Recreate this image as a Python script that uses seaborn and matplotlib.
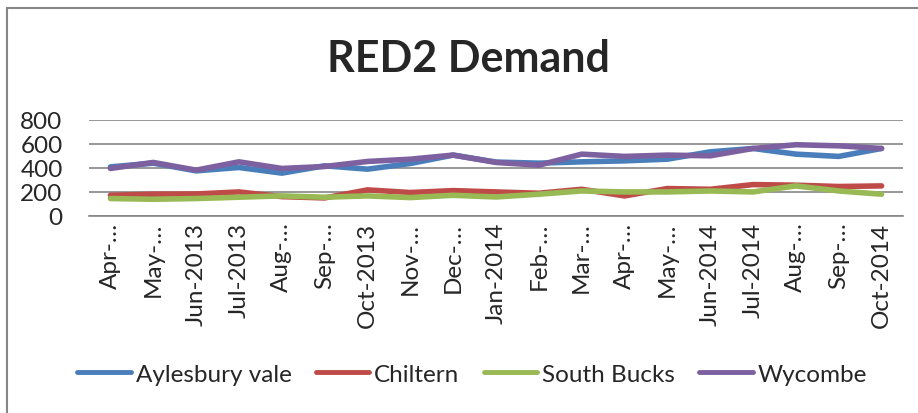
import matplotlib
matplotlib.use("Agg")
import matplotlib.pyplot as plt
import seaborn as sns
import pandas as pd
from matplotlib.patches import Rectangle

months = ["Apr-…", "May-…", "Jun-2013", "Jul-2013", "Aug-…", "Sep-…", "Oct-2013",
          "Nov-…", "Dec-…", "Jan-2014", "Feb-…", "Mar-…", "Apr-…", "May-…",
          "Jun-2014", "Jul-2014", "Aug-…", "Sep-…", "Oct-2014"]
aylesbury = [408, 439, 375, 403, 356, 417, 389, 436, 506, 448, 439, 450, 458, 472, 533, 561, 514, 495, 561]
chiltern = [172, 181, 183, 200, 161, 150, 217, 195, 211, 200, 189, 222, 167, 228, 222, 261, 256, 245, 250]
south_bucks = [145, 139, 145, 156, 167, 156, 167, 153, 172, 158, 181, 208, 200, 200, 208, 200, 250, 208, 181]
wycombe = [395, 445, 381, 450, 395, 411, 453, 472, 506, 445, 422, 514, 495, 506, 500, 561, 592, 583, 561]

series_names = ["Aylesbury vale", "Chiltern", "South Bucks", "Wycombe"]
colors = ["#4A7EBB", "#BE4B48", "#98B954", "#7D60A0"]

rows = []
for name, vals in zip(series_names, [aylesbury, chiltern, south_bucks, wycombe]):
    for i, v in enumerate(vals):
        rows.append({"idx": i, "value": v, "series": name})
df = pd.DataFrame(rows)

sns.set_theme(style="white")
plt.rcParams["font.family"] = ["Lato", "DejaVu Sans"]

fig = plt.figure(figsize=(9.18, 4.14), dpi=100)
ax = fig.add_axes([89 / 918, 1 - 217 / 414, (903 - 89) / 918, (217 - 120.7) / 414])

sns.lineplot(data=df, x="idx", y="value", hue="series", palette=colors,
             hue_order=series_names, linewidth=4.0, ax=ax, legend=True,
             solid_capstyle="round")

ax.set_xlim(-0.5, len(months) - 0.5)
ax.set_ylim(0, 800)
ax.set_yticks([0, 200, 400, 600, 800])
ax.set_xticks(range(len(months)))
ax.set_xticklabels(months, rotation=90, fontsize=17.5)
ax.tick_params(axis="y", labelsize=17.5, length=0, pad=19)
ax.tick_params(axis="x", length=0, pad=4)
ax.set_xlabel("")
ax.set_ylabel("")
ax.yaxis.grid(True, color="#868686", linewidth=1.2)
ax.xaxis.grid(False)
for s in ["top", "right", "left"]:
    ax.spines[s].set_visible(False)
ax.spines["bottom"].set_color("#868686")
ax.spines["bottom"].set_linewidth(1.2)

handles, labels = ax.get_legend_handles_labels()
ax.legend_.remove()
leg = fig.legend(handles, labels, loc="center", bbox_to_anchor=(472 / 918, 1 - 375 / 414),
                 ncol=4, frameon=False, fontsize=17.5, handlelength=2.2,
                 columnspacing=1.0, handletextpad=0.2)
for h in leg.get_lines():
    h.set_linewidth(3.5)

fig.text(468 / 918, 1 - 59 / 414, "RED2 Demand", ha="center", va="center",
         fontsize=31, fontweight="bold")

fig.patches.append(Rectangle((7 / 918, -0.1), 1.2, (1 - 9 / 414) + 0.1,
                             transform=fig.transFigure, fill=False,
                             edgecolor="#868686", linewidth=1.5))

fig.savefig("out.png", dpi=100)
